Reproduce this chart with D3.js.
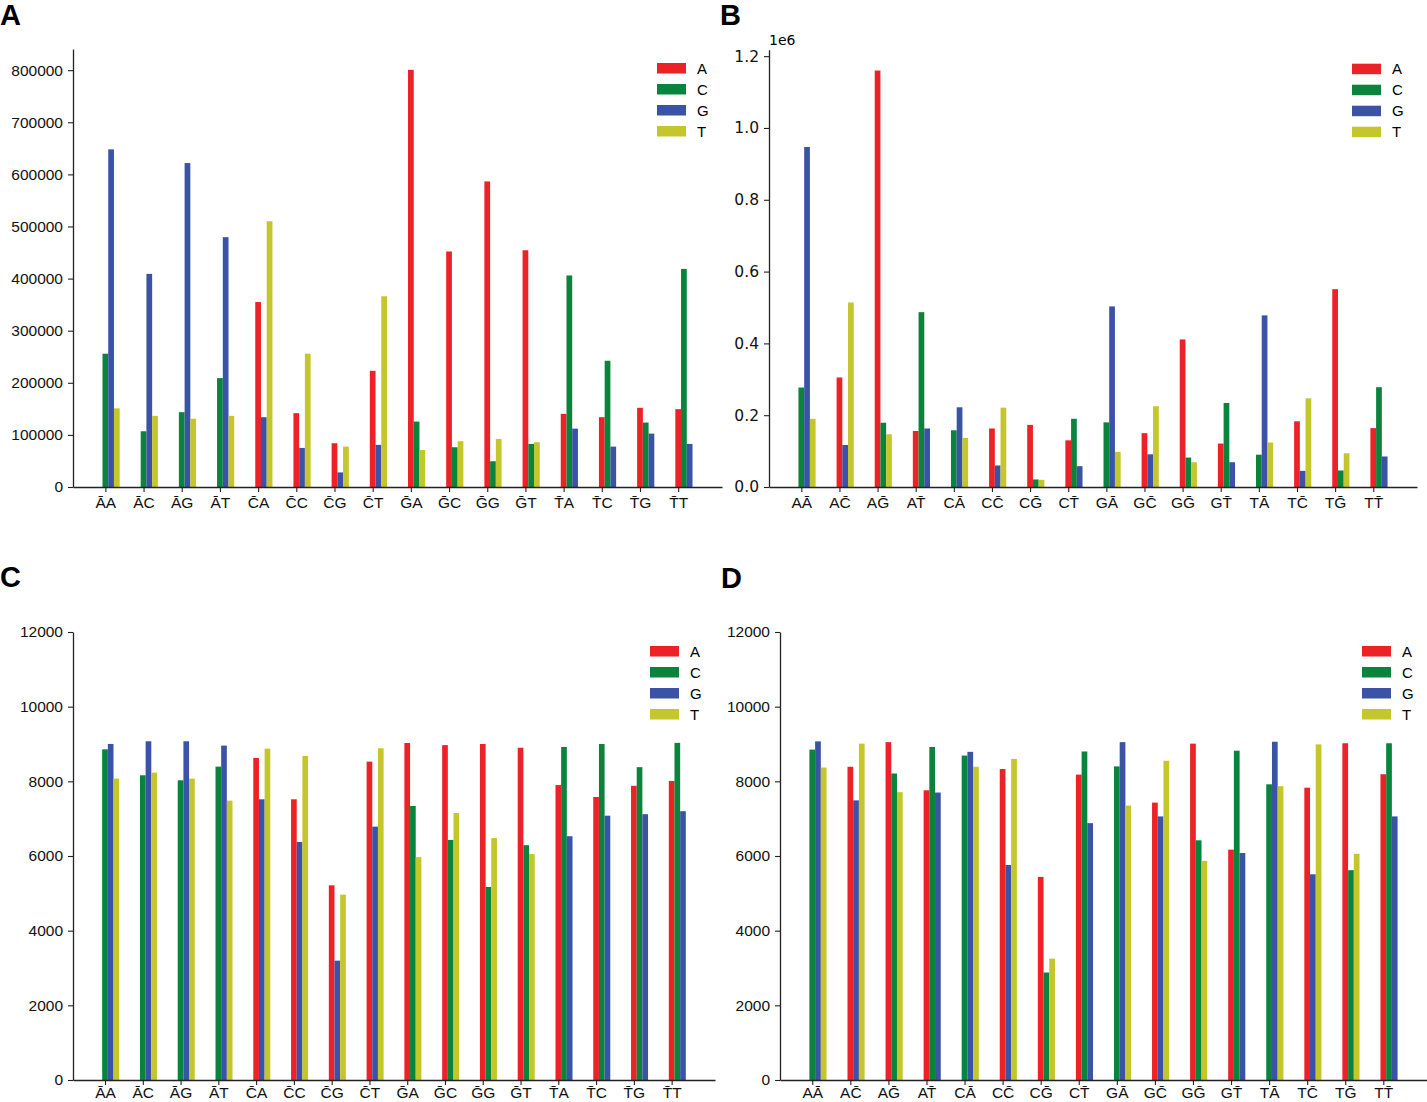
<!DOCTYPE html>
<html>
<head>
<meta charset="utf-8">
<script src="https://cdn.jsdelivr.net/npm/d3@7"></script>
<style>
  body { margin: 0; background: #fff; }
  svg { display: block; }
  .tick text { fill: #111; }
</style>
</head>
<body>
<div id="chart"></div>
<script>
// tick labels: bar over first base (A, C) or over second base (B, D)
const labelsFirst = ["A\u0304A","A\u0304C","A\u0304G","A\u0304T","C\u0304A","C\u0304C","C\u0304G","C\u0304T",
                     "G\u0304A","G\u0304C","G\u0304G","G\u0304T","T\u0304A","T\u0304C","T\u0304G","T\u0304T"];
const labelsSecond = ["AA\u0304","AC\u0304","AG\u0304","AT\u0304","CA\u0304","CC\u0304","CG\u0304","CT\u0304",
                      "GA\u0304","GC\u0304","GG\u0304","GT\u0304","TA\u0304","TC\u0304","TG\u0304","TT\u0304"];
const bases = ["A", "C", "G", "T"];

// panel A
const a_A = [null, null, null, null, 355000, 141700, 84000, 223000, 800600, 452000, 586500, 454400, 140400, 134000, 152000, 149400];
const a_C = [255800, 107000, 143600, 209000, null, null, null, null, 125600, 76300, 49400, 82700, 406000, 242300, 123700, 418600];
const a_G = [648000, 409000, 621700, 479500, 134000, 75000, 28000, 80800, null, null, null, null, 112000, 77500, 102500, 82700];
const a_T = [151000, 136500, 131000, 136500, 510000, 255800, 77500, 366000, 71000, 87800, 92300, 86000, null, null, null, null];

// panel B (x 1e6)
const b_A = [null, 0.305, 1.160, 0.156, null, 0.163, 0.173, 0.130, null, 0.150, 0.411, 0.121, null, 0.183, 0.551, 0.164];
const b_C = [0.277, null, 0.179, 0.487, 0.158, null, 0.021, 0.190, 0.180, null, 0.082, 0.234, 0.090, null, 0.046, 0.278];
const b_G = [0.947, 0.117, null, 0.163, 0.222, 0.060, null, 0.058, 0.503, 0.091, null, 0.069, 0.478, 0.045, null, 0.085];
const b_T = [0.190, 0.514, 0.147, null, 0.137, 0.221, 0.020, null, 0.098, 0.225, 0.069, null, 0.124, 0.247, 0.094, null];

// panel C
const c_A = [null, null, null, null, 8626, 7519, 5215, 8528, 9027, 8970, 9000, 8900, 7900, 7580, 7880, 8010];
const c_C = [8858, 8162, 8028, 8394, null, null, null, null, 7340, 6430, 5170, 6290, 8920, 9000, 8380, 9030];
const c_G = [9001, 9073, 9073, 8957, 7519, 6376, 3197, 6787, null, null, null, null, 6530, 7080, 7120, 7200];
const c_T = [8073, 8233, 8073, 7483, 8876, 8680, 4965, 8885, 5970, 7150, 6480, 6050, null, null, null, null];

// panel D
const d_A = [null, 8390, 9050, 7760, null, 8330, 5440, 8180, null, 7430, 9010, 6170, null, 7830, 9020, 8190];
const d_C = [8850, null, 8210, 8920, 8690, null, 2880, 8800, 8400, null, 6420, 8820, 7920, null, 5620, 9020];
const d_G = [9070, 7490, null, 7700, 8790, 5760, null, 6880, 9050, 7060, null, 6080, 9060, 5510, null, 7060];
const d_T = [8370, 9010, 7710, null, 8390, 8600, 3250, null, 7350, 8550, 5870, null, 7870, 8990, 6060, null];

const yTicksA = d3.range(0, 800001, 100000);
const yTicksB = [0, 0.2, 0.4, 0.6, 0.8, 1.0, 1.2];
const yTicksC = d3.range(0, 12001, 2000);

const colors = ["#ec2227", "#0a843c", "#3a53a6", "#c4c62c"];

const svg = d3.select("#chart").append("svg")
    .attr("width", 1427)
    .attr("height", 1102);

svg.append("rect").attr("width", 1427).attr("height", 1102).attr("fill", "#fff");

const panels = [
    { letter: "A", lx: 0, ly: 25, left: 73, right: 722, top: 49, bottom: 487, ymax: 840630, pad: 5,
      labels: labelsFirst, series: [a_A, a_C, a_G, a_T], ticks: yTicksA, fmt: d3.format("d"), font: "Liberation Sans, Arial, sans-serif" },
    { letter: "B", lx: 720, ly: 25, left: 769, right: 1417, top: 49.7, bottom: 487, ymax: 1.218, pad: 5,
      labels: labelsSecond, series: [b_A, b_C, b_G, b_T], ticks: yTicksB, fmt: d3.format(".1f"), font: "DejaVu Sans, sans-serif", offset: "1e6" },
    { letter: "C", lx: 0, ly: 587, left: 73, right: 715, top: 632, bottom: 1080, ymax: 12000, pad: 2,
      labels: labelsFirst, series: [c_A, c_C, c_G, c_T], ticks: yTicksC, fmt: d3.format("d"), font: "Liberation Sans, Arial, sans-serif" },
    { letter: "D", lx: 721, ly: 588, left: 780, right: 1427, top: 632, bottom: 1080, ymax: 12000, pad: 2,
      labels: labelsSecond, series: [d_A, d_C, d_G, d_T], ticks: yTicksC, fmt: d3.format("d"), font: "Liberation Sans, Arial, sans-serif" }
];

panels.forEach(drawPanel);

function drawPanel(p) {
    const g = svg.append("g");

    const x = d3.scaleLinear()
        .domain([-0.8475, 16.1475])
        .range([p.left, p.right]);

    const y = d3.scaleLinear()
        .domain([0, p.ymax])
        .range([p.bottom, p.top]);

    const bw = 0.15;
    // only the present bases are drawn, side by side from the tick
    const bars = [];
    p.labels.forEach((lab, i) => {
        let k = 0;
        p.series.forEach((s, j) => {
            if (s[i] == null) return;
            bars.push({ pos: i + k * bw, value: s[i], base: j });
            k++;
        });
    });

    g.append("g")
        .selectAll("rect")
        .data(bars)
        .join("rect")
        .attr("x", d => x(d.pos - bw / 2))
        .attr("y", d => y(d.value))
        .attr("width", x(bw) - x(0))
        .attr("height", d => y(0) - y(d.value))
        .attr("fill", d => colors[d.base]);

    const yAxis = g.append("g")
        .attr("transform", `translate(${p.left},0)`)
        .call(d3.axisLeft(y).tickValues(p.ticks).tickFormat(p.fmt).tickSize(5).tickSizeOuter(0).tickPadding(5));
    yAxis.selectAll("text")
        .style("font-family", p.font)
        .style("font-size", "15.5px");

    const xAxis = g.append("g")
        .attr("transform", `translate(0,${p.bottom})`)
        .call(d3.axisBottom(x).tickValues(d3.range(16)).tickFormat(i => p.labels[i]).tickSize(5).tickSizeOuter(0).tickPadding(p.pad));
    xAxis.selectAll("text")
        .style("font-family", "Liberation Sans, Arial, sans-serif")
        .style("font-size", "15.5px");

    [yAxis, xAxis].forEach(ax => {
        ax.select(".domain").attr("stroke", "#222").attr("stroke-width", 1.3);
        ax.selectAll(".tick line").attr("stroke", "#222").attr("stroke-width", 1.1);
    });

    if (p.offset) {
        g.append("text")
            .attr("x", p.left)
            .attr("y", p.top - 5)
            .style("font-family", p.font)
            .style("font-size", "14px")
            .text(p.offset);
    }

    // legend
    const legend = g.append("g")
        .attr("transform", `translate(${p.right - 65},${p.top + 14})`);

    bases.forEach((b, i) => {
        const row = legend.append("g")
            .attr("transform", `translate(0,${i * 21})`);
        row.append("rect")
            .attr("width", 29)
            .attr("height", 10.5)
            .attr("fill", colors[i]);
        row.append("text")
            .attr("x", 40)
            .attr("y", 10.5)
            .style("font-family", "Liberation Sans, Arial, sans-serif")
            .style("font-size", "15px")
            .text(b);
    });

    svg.append("text")
        .attr("x", p.lx)
        .attr("y", p.ly)
        .style("font-family", "Liberation Sans, Arial, sans-serif")
        .style("font-weight", "bold")
        .style("font-size", "29px")
        .text(p.letter);
}
</script>
</body>
</html>
